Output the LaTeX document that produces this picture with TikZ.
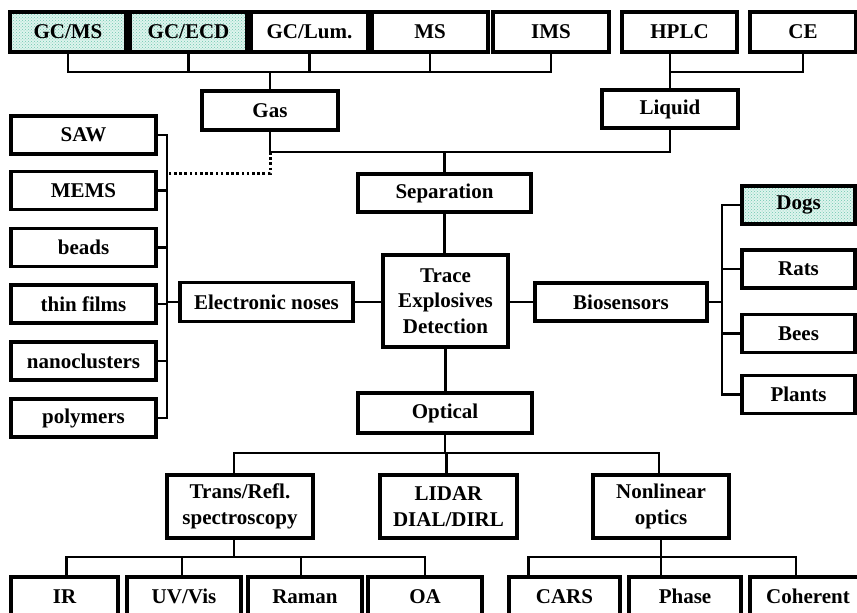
\documentclass[tikz,border=0pt]{standalone}
\usepackage{fontspec}
\setmainfont{Liberation Serif}
\usetikzlibrary{patterns}
\definecolor{dotfill}{RGB}{222,244,237}
\definecolor{dotcol}{RGB}{110,200,175}
\begin{document}
\begin{tikzpicture}[x=1pt,y=-1pt,
 box/.style={draw, line width=3.2pt, font=\fontsize{21}{25.5}\selectfont\bfseries, align=center, inner sep=0pt},
 hl/.style={box, preaction={fill=dotfill}, pattern=crosshatch dots, pattern color=dotcol},
 link/.style={line width=2.3pt},
 dotlink/.style={line width=3pt, dash pattern=on 2.6pt off 2.6pt},
 ]
\clip (0,0) rectangle (857,613);
% top row
\node[hl,  minimum width=116pt, minimum height=40pt] (GCMS)  at (68,32)    {GC/MS};
\node[hl,  minimum width=117pt, minimum height=40pt] (GCECD) at (188.5,32) {GC/ECD};
\node[box, minimum width=117pt, minimum height=40pt] (GCLum) at (309.5,32) {GC/Lum.};
\node[box, minimum width=116pt, minimum height=40pt] (MS)    at (430,32)   {MS};
\node[box, minimum width=116pt, minimum height=40pt] (IMS)   at (551,32)   {IMS};
\node[box, minimum width=115pt, minimum height=40pt] (HPLC)  at (679.5,32) {HPLC};
\node[box, minimum width=106pt, minimum height=40pt] (CE)    at (803,32)   {CE};
% gas / liquid
\node[box, minimum width=136pt, minimum height=39pt] (Gas)    at (270,110.5) {Gas};
\node[box, minimum width=136pt, minimum height=38pt] (Liquid) at (670,109)   {Liquid};
% centre column
\node[box, minimum width=173pt, minimum height=38pt] (Sep)   at (444.5,193) {Separation};
\node[box, minimum width=125pt, minimum height=92pt] (Trace) at (445.5,301) {Trace\\Explosives\\Detection};
\node[box, minimum width=174pt, minimum height=40pt] (Opt)   at (445,413)   {Optical};
\node[box, minimum width=173pt, minimum height=39pt] (EN)    at (266.5,302) {Electronic noses};
\node[box, minimum width=172pt, minimum height=38pt] (Bio)   at (621,302)   {Biosensors};
% left column
\node[box, minimum width=145pt, minimum height=38pt] (SAW)   at (83.5,135)   {SAW};
\node[box, minimum width=145pt, minimum height=38pt] (MEMS)  at (83.5,190.5) {MEMS};
\node[box, minimum width=145pt, minimum height=38pt] (beads) at (83.5,247.5) {beads};
\node[box, minimum width=145pt, minimum height=38pt] (thin)  at (83.5,304)   {thin films};
\node[box, minimum width=145pt, minimum height=38pt] (nano)  at (83.5,361)   {nanoclusters};
\node[box, minimum width=145pt, minimum height=38pt] (poly)  at (83.5,418)   {polymers};
% right column
\node[hl,  minimum width=113pt, minimum height=38pt] (Dogs)   at (798.5,205)   {Dogs};
\node[box, minimum width=113pt, minimum height=38pt] (Rats)   at (798.5,269)   {Rats};
\node[box, minimum width=113pt, minimum height=38pt] (Bees)   at (798.5,333.5) {Bees};
\node[box, minimum width=113pt, minimum height=38pt] (Plants) at (798.5,394.5) {Plants};
% optical children
\node[box, minimum width=146pt, minimum height=63pt] (TR)  at (240,506.5)   {Trans/Refl.\\spectroscopy};
\node[box, minimum width=137pt, minimum height=63pt] (LID) at (448.5,506.5) {LIDAR\\DIAL/DIRL};
\node[box, minimum width=136pt, minimum height=63pt] (NL)  at (661,506.5)   {Nonlinear\\optics};
% bottom row
\node[box, minimum width=107pt, minimum height=39pt] (IR)    at (64.5,596.5)  {IR};
\node[box, minimum width=114pt, minimum height=39pt] (UV)    at (184,596.5)   {UV/Vis};
\node[box, minimum width=114pt, minimum height=39pt] (Raman) at (305,596.5)   {Raman};
\node[box, minimum width=114pt, minimum height=39pt] (OA)    at (425,596.5)   {OA};
\node[box, minimum width=111pt, minimum height=39pt] (CARS)  at (564.5,596.5) {CARS};
\node[box, minimum width=112pt, minimum height=39pt] (Phase) at (685,596.5)   {Phase};
\node[box, minimum width=116pt, minimum height=39pt] (Coh)   at (808,596.5)   {Coherent};
% bus coordinates
\coordinate (gbus) at (0,72);
\coordinate (mbus) at (0,152);
\coordinate (lbus) at (167,0);
\coordinate (rbus) at (722,0);
\coordinate (obus) at (0,453);
\coordinate (bbus) at (0,557);
\coordinate (dotc) at (167,173);
% gas group
\draw[link] (GCMS.south) |- (IMS.south |- gbus) -- (IMS.south);
\foreach \n in {GCECD,GCLum,MS} \draw[link] (\n.south) -- (\n.south |- gbus);
\draw[link] (Gas.north) -- (Gas.north |- gbus);
% liquid group
\draw[link] (Liquid.north) -- (Liquid.north |- HPLC.south);
\draw[link] (Liquid.north |- gbus) -| (CE.south);
% separation
\draw[link] (Gas.south) |- (Liquid.south |- mbus) -- (Liquid.south);
\draw[link] (Sep.north) -- (Sep.north |- mbus);
\draw[dotlink] (Gas.south |- mbus) |- (dotc);
\draw[link] (Sep.south) -- (Sep.south |- Trace.north);
\draw[link] (Trace.south) -- (Trace.south |- Opt.north);
% electronic noses
\draw[link] (EN.east) -- (Trace.west |- EN.east);
\draw[link] (SAW.east) -| (lbus |- poly.east) -- (poly.east);
\foreach \n in {MEMS,beads,thin,nano} \draw[link] (\n.east) -- (lbus |- \n.east);
\draw[link] (EN.west) -- (lbus |- EN.west);
% biosensors
\draw[link] (Trace.east |- Bio.west) -- (Bio.west);
\draw[link] (Dogs.west) -| (rbus |- Plants.west) -- (Plants.west);
\foreach \n in {Rats,Bees} \draw[link] (\n.west) -- (rbus |- \n.west);
\draw[link] (Bio.east) -- (rbus |- Bio.east);
% optical
\draw[link] (Opt.south) -- (Opt.south |- obus);
\draw[link] ([xshift=-6pt]TR.north) |- ([xshift=-2pt]NL.north |- obus) -- ([xshift=-2pt]NL.north);
\draw[link] ([xshift=-2pt]LID.north) -- ([xshift=-2pt]LID.north |- obus);
% spectroscopy children
\draw[link] ([xshift=-6pt]TR.south) -- ([xshift=-6pt]TR.south |- bbus);
\draw[link] ([xshift=2pt]IR.north) |- (OA.north |- bbus) -- (OA.north);
\draw[link] ([xshift=-2pt]UV.north) -- ([xshift=-2pt]UV.north |- bbus);
\draw[link] ([xshift=-4pt]Raman.north) -- ([xshift=-4pt]Raman.north |- bbus);
% nonlinear children
\draw[link] (NL.south) -- (NL.south |- Phase.north);
\draw[link] ([xshift=-36pt]CARS.north) |- ([xshift=-12pt]Coh.north |- bbus) -- ([xshift=-12pt]Coh.north);
\end{tikzpicture}
\end{document}
